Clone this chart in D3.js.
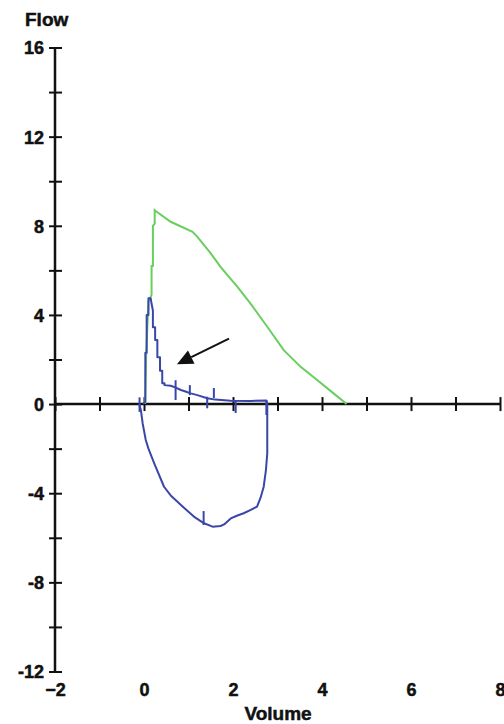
<!DOCTYPE html>
<html>
<head>
<meta charset="utf-8">
<script src="https://cdn.jsdelivr.net/npm/d3@7"></script>
<style>
  body { margin: 0; background: #fff; }
  svg { display: block; }
  text { stroke: #111; stroke-width: 0.5px; }
</style>
</head>
<body>
<div id="chart"></div>
<script>
// tick values
const xTicks = d3.range(-2, 9, 1);
const xLabels = [-2, 0, 2, 4, 6, 8];
const yTicks = d3.range(-12, 17, 2);
const yLabels = [-12, -8, -4, 0, 4, 8, 12, 16];

// predicted expiratory curve (green), [volume, flow]
const predicted = [
  [0.025, 0], [0.05, 2.3], [0.1, 4.6], [0.17, 4.9], [0.17, 6.2], [0.2, 6.2],
  [0.2, 8.0], [0.24, 8.1], [0.24, 8.7], [0.27, 8.65], [0.6, 8.18], [1.09, 7.73],
  [1.2, 7.5], [1.5, 6.76], [1.72, 6.16], [2.1, 5.26], [2.39, 4.52], [2.77, 3.47],
  [3.14, 2.42], [3.52, 1.67], [3.89, 1.08], [4.26, 0.48], [4.52, 0.06], [4.55, 0]
];

// measured loop (blue): expiration then inspiration
const measured = [
  [-0.02, 0], [0.03, 0.1], [0.03, 2.3], [0.06, 2.3], [0.06, 4.0], [0.1, 4.0],
  [0.1, 4.75], [0.15, 4.75], [0.17, 4.5], [0.2, 4.2], [0.2, 3.45], [0.25, 3.45],
  [0.25, 2.87], [0.3, 2.87], [0.3, 2.1], [0.36, 2.1], [0.36, 1.5], [0.41, 1.5],
  [0.41, 0.93], [0.46, 0.93], [0.46, 0.85], [0.6, 0.82], [0.7, 0.75], [0.83, 0.63],
  [0.95, 0.55], [1.05, 0.48], [1.2, 0.4], [1.42, 0.26], [1.6, 0.2], [1.95, 0.15],
  [2.4, 0.14], [2.75, 0.16], [2.77, 0.05], [2.77, -2.21], [2.74, -2.96],
  [2.69, -3.71], [2.62, -4.2], [2.54, -4.6], [2.4, -4.75], [2.24, -4.9],
  [2.1, -5.0], [1.95, -5.13], [1.8, -5.4], [1.72, -5.47], [1.54, -5.5],
  [1.35, -5.35], [1.12, -5.05], [0.83, -4.53], [0.6, -4.1], [0.45, -3.71],
  [0.23, -2.66], [0.1, -2.0], [0.04, -1.61], [-0.03, -0.87], [-0.07, -0.27],
  [-0.11, 0]
];

// small vertical marks on the measured loop, [volume, flowTop, flowBottom]
const marks = [
  [0.71, 1.07, 0.18], [1.03, 0.85, 0.4], [1.42, 0.33, -0.19], [1.57, 0.72, 0.27],
  [2.06, 0.18, -0.4], [2.75, 0.18, -0.49], [1.34, -4.8, -5.43], [-0.1, 0.3, -0.35]
];

// arrow annotation, [volume, flow] from tail to tip
const arrow = [[1.91, 2.94], [0.74, 1.79]];

const w = 504;
const h = 724;

const x = d3.scaleLinear().domain([-2, 8]).range([55, 500]);
const y = d3.scaleLinear().domain([-12, 16]).range([671.5, 47.5]);

const svg = d3.select("#chart")
  .append("svg")
  .attr("width", w)
  .attr("height", h)
  .attr("font-family", "'Liberation Sans', Arial, sans-serif")
  .attr("font-weight", "bold");

// y axis
const yAxis = svg.append("g")
  .attr("transform", `translate(${x(-2)},0)`)
  .call(d3.axisLeft(y).tickValues(yTicks).tickSize(6)
    .tickFormat(d => yLabels.includes(d) ? d : ""));
yAxis.select(".domain").remove();
yAxis.selectAll(".tick line").attr("x2", -6).attr("x1", 7)
  .attr("stroke", "#111").attr("stroke-width", 2);
yAxis.selectAll(".tick text").attr("x", -11).attr("dy", "0.36em")
  .attr("font-size", 18).attr("fill", "#111");
yAxis.append("line")
  .attr("y1", y(16)).attr("y2", y(-12))
  .attr("stroke", "#111").attr("stroke-width", 2.5);

// x axis
const xAxis = svg.append("g")
  .attr("transform", `translate(0,${y(0)})`)
  .call(d3.axisBottom(x).tickValues(xTicks).tickSize(7).tickFormat(""));
xAxis.select(".domain").remove();
xAxis.selectAll(".tick line").attr("y1", -7).attr("y2", 7)
  .attr("stroke", "#111").attr("stroke-width", 2);
xAxis.append("line")
  .attr("x1", x(-2)).attr("x2", x(8))
  .attr("stroke", "#111").attr("stroke-width", 2.5);

// x tick labels sit below the plot
svg.append("g")
  .attr("transform", `translate(0,${y(-12)})`)
  .call(d3.axisBottom(x).tickValues(xLabels).tickSize(0).tickPadding(12))
  .call(g => g.select(".domain").remove())
  .selectAll("text")
  .attr("font-size", 18).attr("fill", "#111");

// axis titles
svg.append("text")
  .attr("x", 25).attr("y", 26)
  .attr("font-size", 19).attr("fill", "#111")
  .text("Flow");
svg.append("text")
  .attr("x", 278).attr("y", 720)
  .attr("text-anchor", "middle")
  .attr("font-size", 19).attr("fill", "#111")
  .text("Volume");

const line = d3.line().x(d => x(d[0])).y(d => y(d[1]));

svg.append("path")
  .datum(predicted)
  .attr("d", line)
  .attr("fill", "none")
  .attr("stroke", "#68cf5e")
  .attr("stroke-width", 2);

svg.append("path")
  .datum(measured)
  .attr("d", line)
  .attr("fill", "none")
  .attr("stroke", "#3a46a8")
  .attr("stroke-width", 2)
  .attr("stroke-linejoin", "round");

svg.selectAll(".mark")
  .data(marks)
  .enter()
  .append("line")
  .attr("class", "mark")
  .attr("x1", d => x(d[0])).attr("x2", d => x(d[0]))
  .attr("y1", d => y(d[1])).attr("y2", d => y(d[2]))
  .attr("stroke", "#3a46a8")
  .attr("stroke-width", 2);

// arrow
const ax0 = x(arrow[0][0]), ay0 = y(arrow[0][1]);
const ax1 = x(arrow[1][0]), ay1 = y(arrow[1][1]);
const ang = Math.atan2(ay1 - ay0, ax1 - ax0);
const headLen = 16, headW = 7.5;
const bx = ax1 - headLen * Math.cos(ang), by = ay1 - headLen * Math.sin(ang);
svg.append("line")
  .attr("x1", ax0).attr("y1", ay0).attr("x2", bx).attr("y2", by)
  .attr("stroke", "#111").attr("stroke-width", 2);
svg.append("path")
  .attr("d", `M${ax1},${ay1}L${bx + headW * Math.sin(ang)},${by - headW * Math.cos(ang)}L${bx - headW * Math.sin(ang)},${by + headW * Math.cos(ang)}Z`)
  .attr("fill", "#111");
</script>
</body>
</html>
